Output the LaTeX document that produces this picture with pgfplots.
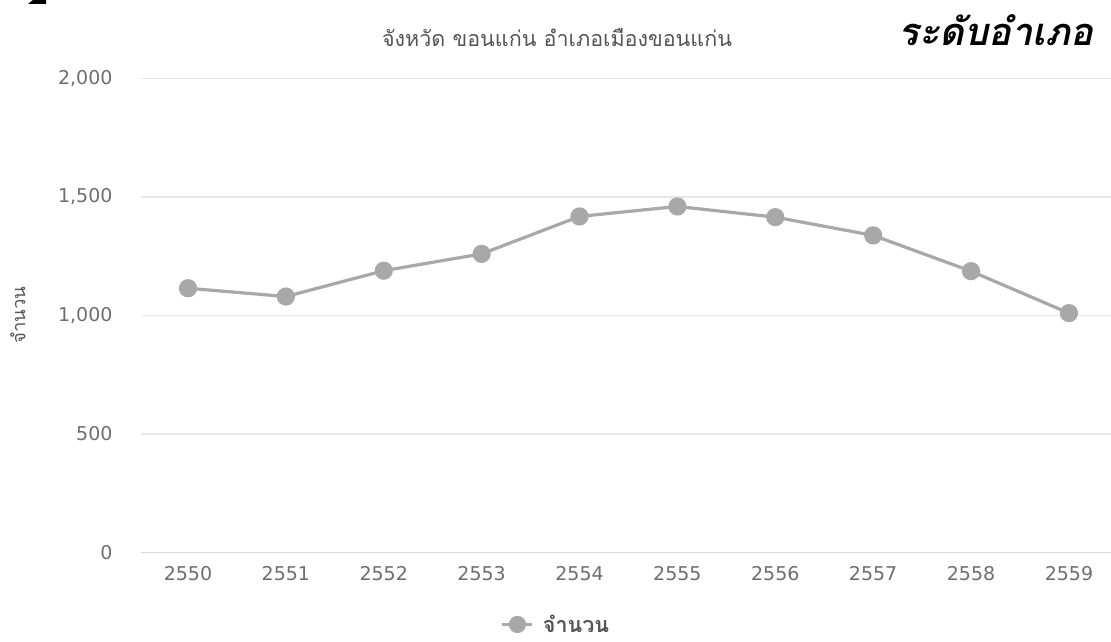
\documentclass[border=0pt]{standalone}
\usepackage{pgfplots}
\usepackage{pgfplotstable}
\usepackage{fontspec}
\pgfplotsset{compat=1.18}
\setmainfont{DejaVu Sans}
\newfontfamily\thai[Script=Thai]{Loma}
\definecolor{ticktxt}{HTML}{6E6E6E}
\definecolor{titletxt}{HTML}{555555}
\definecolor{series}{HTML}{A8A8A8}
\definecolor{gridc}{HTML}{E6E6E6}

% number of persons per year, Mueang Khon Kaen district
\pgfplotstableread{
idx year value
0 2550 1115
1 2551 1080
2 2552 1189
3 2553 1260
4 2554 1418
5 2555 1460
6 2556 1415
7 2557 1338
8 2558 1187
9 2559 1010
}\datatable

\begin{document}
\begin{tikzpicture}
\useasboundingbox (0pt,0pt) rectangle (1111pt,641pt);
\begin{axis}[
  at={(141pt,88.5pt)}, anchor=south west,
  scale only axis, width=970pt, height=474pt,
  xmin=-0.48, xmax=9.43, ymin=0, ymax=2000,
  xtick={0,...,9},
  xticklabels={2550,2551,2552,2553,2554,2555,2556,2557,2558,2559},
  ytick={0,500,1000,1500,2000},
  axis line style={draw=none},
  major tick length=0pt,
  ymajorgrids,
  grid style={color=gridc, line width=1.4pt},
  tick label style={font=\fontsize{19}{22}\selectfont, text=ticktxt},
  /pgf/number format/assume math mode=true,
  /pgf/number format/1000 sep={,},
  yticklabel shift=25pt,
  xticklabel shift=10pt,
  clip=false,
  legend style={at={(415pt,-72pt)}, anchor=center, draw=none, fill=none,
    font=\thai\bfseries\fontsize{21.5}{24}\selectfont, text=titletxt,
    legend cell align=left},
  legend image code/.code={
    \draw[series, line width=3pt] (0pt,0pt) -- (30pt,0pt);
    \fill[series] (15pt,0pt) circle (7pt);
  },
]
\draw[color=gridc!85!gray, line width=1.6pt] (axis cs:-0.48,0) -- (axis cs:9.43,0);
\addplot[color=series, line width=3.2pt, mark=*, mark size=7.5pt,
  mark options={fill=series, draw=none}]
  table[x=idx, y=value] {\datatable};
\addlegendentry{\hspace{7pt}จำนวน}
\end{axis}
% titles and axis label
\node[text=titletxt, font=\thai\fontsize{21.5}{25}\selectfont] at (557pt,603pt) {จังหวัด ขอนแก่น อำเภอเมืองขอนแก่น};
\node[text=black, font=\thai\bfseries\itshape\fontsize{38}{42}\selectfont] at (996pt,611pt) {ระดับอำเภอ};
\node[rotate=90, text=titletxt, font=\thai\fontsize{18.5}{21}\selectfont] at (18pt,326pt) {จำนวน};
% fragment of a heading cut off at the top edge
\begin{scope}
\clip (0pt,637pt) rectangle (1111pt,641pt);
\fill[black] (28pt,637pt) -- (46pt,637pt) -- (46pt,641pt) -- (33pt,641pt) -- cycle;
\end{scope}
\end{tikzpicture}
\end{document}
